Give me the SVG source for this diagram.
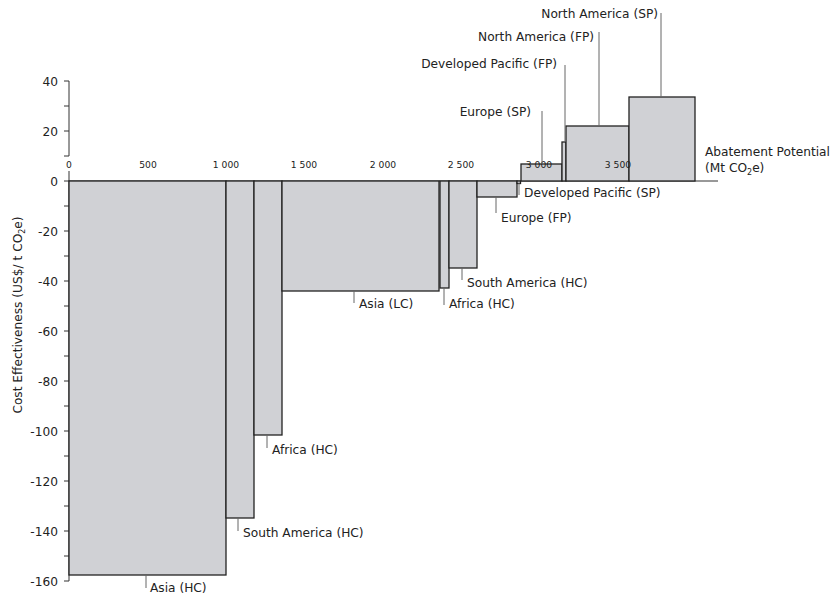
<svg xmlns="http://www.w3.org/2000/svg" width="838" height="597" viewBox="0 0 838 597">
<style>
text{font-family:"DejaVu Sans","Noto Sans",sans-serif;fill:#222}
.lab{font-size:12.2px}
.tk{font-size:12.2px;text-anchor:end}
.xt{font-size:9.2px;text-anchor:middle}
.bar{fill:#d0d1d5;stroke:#222;stroke-width:1.3}
.ax{stroke:#333;stroke-width:1;fill:none}
.ld{stroke:#666;stroke-width:1;fill:none}
</style>
<rect width="838" height="597" fill="#fff"/>
<g id="axes">
<path class="ax" d="M69 81V156M69 171V581M69 181H718"/>
<path class="ax" d="M64 81H69M64 106H69M64 131H69M64 156H69M64 181H69M64 206H69M64 231H69M64 256H69M64 281H69M64 306H69M64 331H69M64 356H69M64 381H69M64 406H69M64 431H69M64 456H69M64 481H69M64 506H69M64 531H69M64 556H69M64 581H69"/>
<text class="tk" x="58" y="86">40</text>
<text class="tk" x="58" y="136">20</text>
<text class="tk" x="58" y="186">0</text>
<text class="tk" x="58" y="236">-20</text>
<text class="tk" x="58" y="286">-40</text>
<text class="tk" x="58" y="336">-60</text>
<text class="tk" x="58" y="386">-80</text>
<text class="tk" x="58" y="436">-100</text>
<text class="tk" x="58" y="486">-120</text>
<text class="tk" x="58" y="536">-140</text>
<text class="tk" x="58" y="586">-160</text>
<text class="lab" transform="translate(22,315) rotate(-90)" text-anchor="middle">Cost Effectiveness (US$/ t CO<tspan font-size="8" dy="2.5">2</tspan><tspan dy="-2.5">e)</tspan></text>
<text class="lab" x="705" y="156">Abatement Potential</text>
<text class="lab" x="705" y="172">(Mt CO<tspan font-size="8" dy="2.5">2</tspan><tspan dy="-2.5">e)</tspan></text>
</g>
<g id="bars">
<rect id="asia-hc" class="bar" x="69" y="181" width="157" height="394"/>
<rect id="sa-hc" class="bar" x="226" y="181" width="28" height="337"/>
<rect id="africa-hc" class="bar" x="254" y="181" width="28" height="254"/>
<rect id="asia-lc" class="bar" x="282" y="181" width="157" height="110"/>
<rect id="africa-hc2" class="bar" x="440" y="181" width="9" height="107"/>
<rect id="sa-hc2" class="bar" x="449" y="181" width="28" height="87"/>
<rect id="europe-fp" class="bar" x="477" y="181" width="40" height="16"/>
<rect id="devpac-sp" class="bar" x="517" y="181" width="3.5" height="2.5"/>
<rect id="europe-sp" class="bar" x="521" y="164" width="41" height="17"/>
<rect id="devpac-fp" class="bar" x="562" y="142" width="4" height="39"/>
<rect id="na-fp" class="bar" x="566" y="126" width="63" height="55"/>
<rect id="na-sp" class="bar" x="629" y="97" width="66" height="84"/>
</g>
<g id="xticks">
<text class="xt" x="69" y="168">0</text>
<text class="xt" x="148" y="168">500</text>
<text class="xt" x="226" y="168">1 000</text>
<text class="xt" x="304" y="168">1 500</text>
<text class="xt" x="383" y="168">2 000</text>
<text class="xt" x="461" y="168">2 500</text>
<text class="xt" x="539" y="168">3 000</text>
<text class="xt" x="618" y="168">3 500</text>
</g>
<g id="connectors">
<path class="ld" d="M146 575V588M238 518V531M267 435V448M354 291V303M444 288V305M462 268V280M496 197V213M519 183V195M542 111V164M565 65V142M599 32V126M661 13V97"/>
</g>
<g id="labels">
<text class="lab" x="150" y="592">Asia (HC)</text>
<text class="lab" x="243" y="537">South America (HC)</text>
<text class="lab" x="272" y="454">Africa (HC)</text>
<text class="lab" x="359" y="308">Asia (LC)</text>
<text class="lab" x="449" y="308">Africa (HC)</text>
<text class="lab" x="467" y="287">South America (HC)</text>
<text class="lab" x="501" y="222">Europe (FP)</text>
<text class="lab" x="524" y="197">Developed Pacific (SP)</text>
<text class="lab" x="531" y="116" text-anchor="end">Europe (SP)</text>
<text class="lab" x="557" y="68" text-anchor="end">Developed Pacific (FP)</text>
<text class="lab" x="594" y="41" text-anchor="end">North America (FP)</text>
<text class="lab" x="658" y="18" text-anchor="end">North America (SP)</text>
</g>
</svg>
